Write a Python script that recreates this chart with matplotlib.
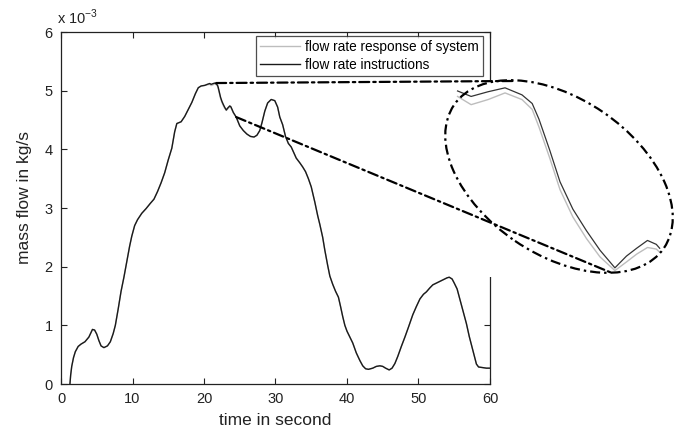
import matplotlib
matplotlib.use("Agg")
import matplotlib.pyplot as plt
import numpy as np
from matplotlib.patches import Ellipse, ConnectionPatch

plt.rcParams['font.family'] = ['Liberation Sans', 'DejaVu Sans']

# time in seconds
t = [1.25, 1.35, 1.5, 1.75, 2.0, 2.4, 2.8, 3.35, 3.9, 4.4, 4.7, 5.0, 5.3, 5.6, 6.0, 6.5,
     6.9, 7.3, 7.6, 8.0, 8.4, 8.8, 9.2, 9.6, 9.9, 10.3, 10.7, 11.3, 11.9, 12.5, 13.0, 13.5,
     14.0, 14.5, 15.0, 15.5, 15.9, 16.2, 16.8, 17.3, 17.8, 18.3, 18.8, 19.2, 19.6, 20.1,
     20.5, 20.8, 21.0, 21.25, 21.5, 21.75, 21.9, 22.0, 22.16, 22.31, 22.5, 22.7, 22.9, 23.12,
     23.29, 23.44, 23.6, 23.73, 23.78, 24.1, 24.5, 25.0, 25.5, 26.0, 26.5, 27.0, 27.4,
     27.8, 28.1, 28.5, 28.9, 29.4, 29.9, 30.3, 30.6, 31.0, 31.4, 31.8, 32.2, 32.6, 32.9,
     33.4, 33.8, 34.2, 34.6, 35.0, 35.5, 35.9, 36.2, 36.6, 36.9, 37.3, 37.6, 38.0, 38.4,
     38.8, 39.1, 39.4, 39.7, 40.0, 40.4, 40.8, 41.3, 41.8, 42.2, 42.6, 43.0, 43.6, 44.1,
     44.6, 45.0, 45.4, 45.9, 46.3, 46.7, 47.1, 47.6, 48.1, 48.6, 49.2, 49.7, 50.2, 50.7,
     51.1, 51.6, 52.0, 52.5, 53.0, 53.5, 54.0, 54.3, 54.7, 55.0, 55.4, 55.8, 56.2, 56.7,
     57.1, 57.5, 57.8, 58.1, 58.4, 59.0, 59.5, 60.0]

# flow rate instructions (x 1e-3 kg/s)
instr = [0.0, 0.15, 0.30, 0.45, 0.55, 0.64, 0.68, 0.72, 0.80, 0.93, 0.92, 0.85, 0.74, 0.65,
         0.62, 0.65, 0.72, 0.86, 1.00, 1.28, 1.58, 1.82, 2.08, 2.35, 2.52, 2.70, 2.80, 2.91,
         2.99, 3.08, 3.15, 3.28, 3.43, 3.60, 3.82, 4.02, 4.30, 4.44, 4.47, 4.56, 4.68, 4.80,
         4.95, 5.05, 5.08, 5.09, 5.11, 5.122, 5.108, 5.12, 5.13, 5.112, 5.09, 5.05, 4.97, 4.89,
         4.82, 4.765, 4.715, 4.67, 4.70, 4.72, 4.74, 4.73, 4.72, 4.63, 4.55, 4.40, 4.32, 4.26,
         4.22, 4.21, 4.24, 4.32, 4.45, 4.65, 4.79, 4.85, 4.83, 4.72, 4.55, 4.42, 4.22, 4.10,
         4.04, 3.93, 3.85, 3.77, 3.70, 3.62, 3.50, 3.36, 3.10, 2.87, 2.72, 2.50, 2.28, 2.02,
         1.84, 1.70, 1.58, 1.48, 1.32, 1.15, 1.00, 0.90, 0.80, 0.70, 0.53, 0.40, 0.31, 0.26,
         0.25, 0.27, 0.30, 0.31, 0.30, 0.27, 0.24, 0.27, 0.35, 0.47, 0.64, 0.80, 0.97, 1.18,
         1.32, 1.45, 1.53, 1.57, 1.64, 1.69, 1.72, 1.75, 1.78, 1.81, 1.82, 1.79, 1.72, 1.62,
         1.44, 1.26, 1.03, 0.81, 0.62, 0.47, 0.34, 0.29, 0.28, 0.27, 0.27]

# flow rate response of system (x 1e-3 kg/s)
resp = [0.0, 0.15, 0.30, 0.45, 0.55, 0.64, 0.68, 0.72, 0.80, 0.93, 0.92, 0.85, 0.74, 0.65,
        0.62, 0.65, 0.72, 0.86, 1.00, 1.28, 1.58, 1.82, 2.08, 2.35, 2.52, 2.70, 2.80, 2.91,
        2.99, 3.08, 3.15, 3.28, 3.43, 3.60, 3.82, 4.02, 4.30, 4.44, 4.47, 4.56, 4.68, 4.80,
        4.95, 5.05, 5.08, 5.09, 5.10, 5.108, 5.087, 5.10, 5.117, 5.10, 5.075, 5.03, 4.95, 4.87,
        4.80, 4.745, 4.698, 4.663, 4.685, 4.705, 4.722, 4.718, 4.71, 4.62, 4.55, 4.40, 4.32,
        4.26, 4.22, 4.21, 4.24, 4.32, 4.45, 4.65, 4.79, 4.85, 4.83, 4.72, 4.55, 4.42, 4.22,
        4.10, 4.04, 3.93, 3.85, 3.77, 3.70, 3.62, 3.50, 3.36, 3.10, 2.87, 2.72, 2.50, 2.28,
        2.02, 1.84, 1.70, 1.58, 1.48, 1.32, 1.15, 1.00, 0.90, 0.80, 0.70, 0.53, 0.40, 0.31,
        0.26, 0.25, 0.27, 0.30, 0.31, 0.30, 0.27, 0.24, 0.27, 0.35, 0.47, 0.64, 0.80, 0.97,
        1.18, 1.32, 1.45, 1.53, 1.57, 1.64, 1.69, 1.72, 1.75, 1.78, 1.81, 1.82, 1.79, 1.72,
        1.62, 1.44, 1.26, 1.03, 0.81, 0.62, 0.47, 0.34, 0.29, 0.28, 0.27, 0.27]

x_ticks = [0, 10, 20, 30, 40, 50, 60]
y_ticks = [0, 1, 2, 3, 4, 5, 6]
labels = ['flow rate response of system', 'flow rate instructions']

W, H = 684, 430
fig = plt.figure(figsize=(W / 100, H / 100), dpi=100)

def px_rect(l, r, top, bot):
    return [l / W, 1 - bot / H, (r - l) / W, (bot - top) / H]

ax = fig.add_axes(px_rect(61, 490, 32, 384))
ax.plot(t, resp, color='#bdbdbd', lw=1.0, label=labels[0])
ax.plot(t, instr, color='#1a1a1a', lw=1.0, label=labels[1])
ax.set_xlim(0, 60)
ax.set_ylim(0, 6)
ax.set_xticks(x_ticks)
ax.set_yticks(y_ticks)
ax.tick_params(direction='in', length=4.5, width=0.8, top=True, right=True,
               labelsize=10.5, pad=6, colors='#222222')
for s in ax.spines.values():
    s.set_linewidth(0.9)
    s.set_color('#222222')
ax.set_xlabel('time in second', fontsize=12.5, color='#222222')
ax.set_ylabel('mass flow in kg/s', fontsize=12.5, color='#222222')
ax.xaxis.set_label_coords(0.5, -0.082)
ax.yaxis.set_label_coords(-0.068, 0.53)
fig.text(57 / W, 1 - 24 / H, 'x 10$^{\\mathregular{-3}}$', fontsize=10.5, color='#222222',
         ha='left', va='baseline')

leg = ax.legend(loc='upper right', bbox_to_anchor=((483 - 61) / 429, (384 - 36) / 352),
                fontsize=9.8, frameon=True, fancybox=False, handlelength=2.9,
                borderpad=0.3, labelspacing=0.3, handletextpad=0.4, borderaxespad=0)
leg.get_frame().set_edgecolor('#222222')
leg.get_frame().set_linewidth(0.9)

# inset (zoomed view)
tt = np.array(t)
mask = (tt >= 20.79) & (tt <= 23.79)
ins = fig.add_axes(px_rect(456, 678, 80, 277), zorder=3)
ins.set_facecolor('white')
for s in ins.spines.values():
    s.set_visible(False)
ins.set_xticks([])
ins.set_yticks([])
ins.plot(tt[mask], np.array(resp)[mask], color='#bdbdbd', lw=1.0)
ins.plot(tt[mask], np.array(instr)[mask], color='#333333', lw=0.9)
ins.set_xlim(20.777, 24.05)
ins.set_ylim(4.6466, 5.150)

dd = (0, (4.5, 1.8, 1.1, 1.8))
ell = Ellipse((559 / 100, (H - 176.5) / 100), 2.54, 1.56, angle=-34.3,
              transform=fig.dpi_scale_trans, fill=False, edgecolor='black',
              lw=1.6, linestyle=dd, zorder=10)
fig.add_artist(ell)

con1 = ConnectionPatch(xyA=(21.7, 5.13), coordsA=ax.transData,
                       xyB=(513 / 100, (H - 81) / 100), coordsB=fig.dpi_scale_trans,
                       color='black', lw=1.6, linestyle=dd, zorder=10)
con2 = ConnectionPatch(xyA=(24.5, 4.55), coordsA=ax.transData,
                       xyB=(612 / 100, (H - 273) / 100), coordsB=fig.dpi_scale_trans,
                       color='black', lw=1.6, linestyle=dd, zorder=10)
fig.add_artist(con1)
fig.add_artist(con2)

fig.savefig('out.png', dpi=100)
